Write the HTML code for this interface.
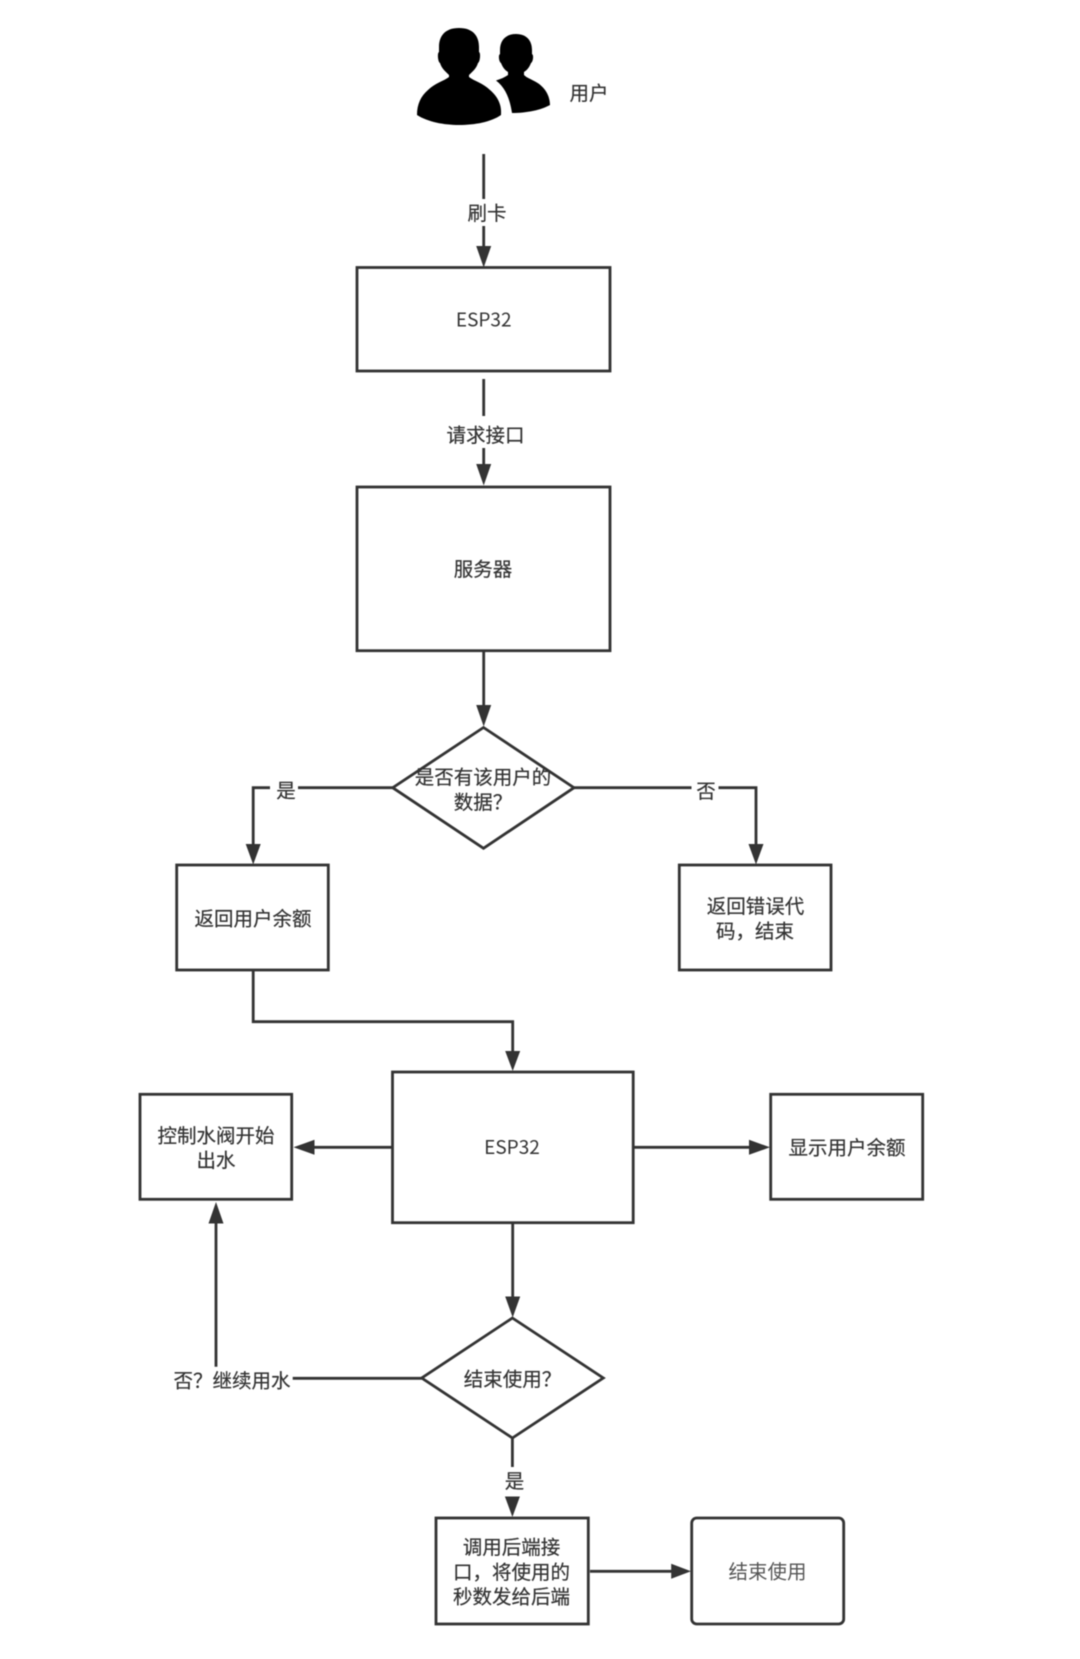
<!DOCTYPE html>
<html lang="zh">
<head>
<meta charset="utf-8">
<title>流程图</title>
<style>
html,body{margin:0;padding:0;background:#fff;}
svg{display:block;filter:blur(.45px);}
text{font-family:"Liberation Sans","Noto Sans CJK SC",sans-serif;font-size:19.5px;fill:#333;stroke:#333;stroke-width:.2px;text-anchor:middle;}
.e{font-family:"Noto Sans CJK SC",sans-serif;font-size:19px;stroke:none;}
.b{fill:#fff;stroke:#333;stroke-width:2.8;}
.l{fill:none;stroke:#333;stroke-width:2.8;}
.a{fill:#333;stroke:none;}
</style>
</head>
<body>
<svg width="1080" height="1659" viewBox="0 0 1080 1659" xmlns="http://www.w3.org/2000/svg">
<rect width="1080" height="1659" fill="#fff"/>

<!-- users icon -->
<path fill="#000" d="M459 28C445 28 439 36 439 47L439 52C437 53 438 62 440 63C442 69 445 71 449 75L449 77C444 81 435 83 428 90C421 96 417 104 417 115C428 122 444 125 459 125C475 125 491 122 501 115C502 104 497 96 490 90C483 83 474 81 469 77L469 75C473 71 476 69 478 63C480 62 481 53 479 52L479 47C479 36 473 28 459 28Z"/>
<path fill="#000" d="M516 34C505 34 500 41 500 50L500 54C498 55 499 62 501 63C503 68 505 70 508 72L508 75C505 77 501 79 496 80.5C506 88 510 100 512 113C527 113 541 110 550 105C550 96 545 87 536 82C531 79 527 78 524 75L524 72C527 70 529 68 531 63C533 62 534 55 532 54L532 50C532 41 527 34 516 34Z"/>
<text x="589" y="100">用户</text>

<!-- connector 1 -->
<path class="l" d="M483.7 154V199M483.7 226V248"/>
<path class="a" d="M483.7 267.5L476.2 246H491.2Z"/>
<text x="487" y="220">刷卡</text>

<!-- ESP32 top -->
<rect class="b" x="357" y="267.5" width="253" height="103.5"/>
<text class="e" x="483.7" y="326.5">ESP32</text>

<!-- connector 2 -->
<path class="l" d="M483.7 379V416M483.7 448V466"/>
<path class="a" d="M483.7 485.5L476.2 464H491.2Z"/>
<text x="485.5" y="442">请求接口</text>

<!-- server -->
<rect class="b" x="357" y="487" width="253" height="163.7"/>
<text x="483" y="576">服务器</text>

<!-- server to diamond -->
<path class="l" d="M483.7 651V708"/>
<path class="a" d="M483.7 726.5L476.2 705H491.2Z"/>

<!-- diamond 1 -->
<path class="b" d="M483.5 727.5L574 787.7L483.5 848.3L392.7 787.7Z"/>
<text x="483" y="784">是否有该用户的</text>
<text x="483" y="809">数据？</text>

<!-- yes branch -->
<path class="l" d="M392.7 787.7H298M270 787.7H253.2V847"/>
<path class="a" d="M253.2 864.5L245.7 844H260.7Z"/>
<text x="286" y="797.5">是</text>

<!-- no branch -->
<path class="l" d="M574 787.7H691.5M718.5 787.7H756V847"/>
<path class="a" d="M756 864.5L748.5 844H763.5Z"/>
<text x="706" y="798">否</text>

<!-- result boxes -->
<rect class="b" x="176.7" y="865" width="151.6" height="105"/>
<text x="253" y="925.5">返回用户余额</text>

<rect class="b" x="679.3" y="865" width="151.7" height="105"/>
<text x="755.5" y="913">返回错误代</text>
<text x="755" y="938">码，结束</text>

<!-- elbow to ESP32 2 -->
<path class="l" d="M253.2 970V1021.7H512.7V1053"/>
<path class="a" d="M512.7 1071L505.2 1051H520.2Z"/>

<!-- ESP32 second -->
<rect class="b" x="392.5" y="1072" width="240.7" height="150.7"/>
<text class="e" x="512" y="1154">ESP32</text>

<!-- left to control box -->
<path class="l" d="M392.3 1147.3H312"/>
<path class="a" d="M293.5 1147.3L314.5 1139.8V1154.8Z"/>
<rect class="b" x="140" y="1094.3" width="151.7" height="105"/>
<text x="216" y="1142.5">控制水阀开始</text>
<text x="216" y="1167">出水</text>

<!-- right to display box -->
<path class="l" d="M633.3 1147.3H752"/>
<path class="a" d="M770 1147.3L749 1139.8V1154.8Z"/>
<rect class="b" x="770.7" y="1094.3" width="152" height="105"/>
<text x="847" y="1154.5">显示用户余额</text>

<!-- ESP32 to diamond 2 -->
<path class="l" d="M512.7 1222.7V1299"/>
<path class="a" d="M512.7 1317.5L505.2 1296.5H520.2Z"/>

<!-- diamond 2 -->
<path class="b" d="M512.4 1318L603.3 1378L512.4 1438L421.7 1378Z"/>
<text x="512.5" y="1386">结束使用？</text>

<!-- no: continue -->
<path class="l" d="M421.7 1378.3H292.7"/>
<text x="232" y="1387.5">否？继续用水</text>
<path class="l" d="M216 1366.7V1221"/>
<path class="a" d="M216 1202L208.5 1223.5H223.5Z"/>

<!-- yes -->
<path class="l" d="M512.4 1438V1467"/>
<text x="514.5" y="1488">是</text>
<path class="a" d="M512.4 1517L504.9 1496.5H519.9Z"/>

<!-- call backend -->
<rect class="b" x="436" y="1518" width="152.3" height="106"/>
<text x="511.5" y="1554">调用后端接</text>
<text x="511.5" y="1579">口，将使用的</text>
<text x="511.5" y="1603.5">秒数发给后端</text>

<path class="l" d="M590 1571.3H674"/>
<path class="a" d="M691 1571.3L671.2 1563.8V1578.8Z"/>

<!-- end -->
<rect class="b" x="691.7" y="1518" width="152" height="106" rx="5" ry="5"/>
<text x="767.5" y="1578.5" style="fill:#555;stroke:none">结束使用</text>
</svg>
</body>
</html>
